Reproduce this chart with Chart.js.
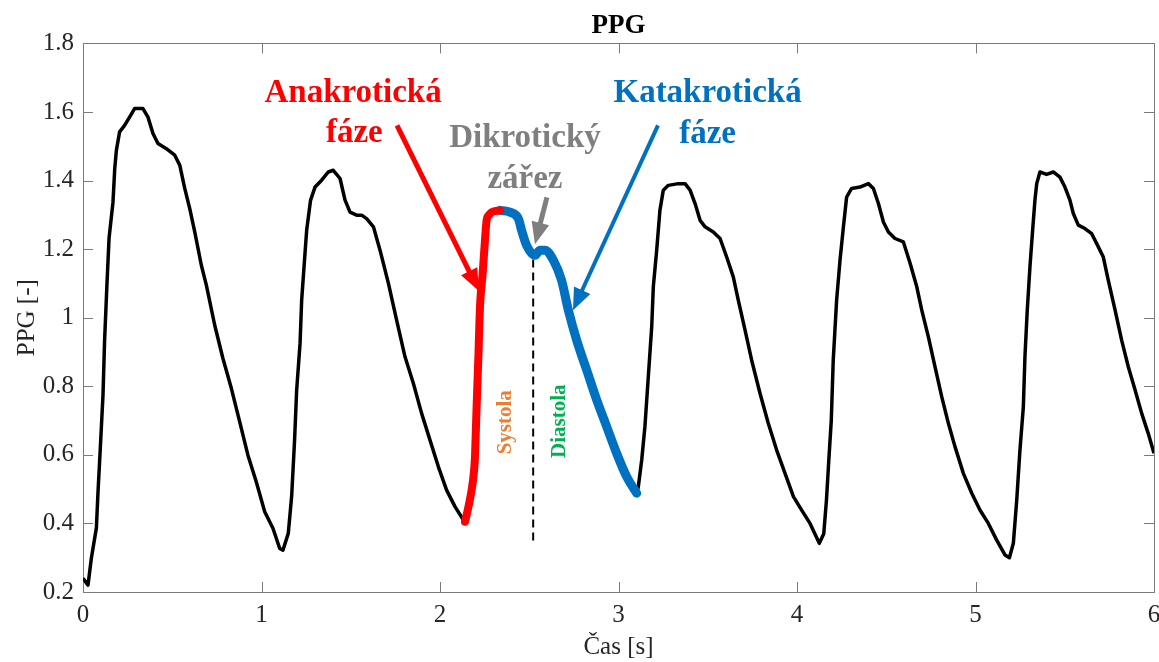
<!DOCTYPE html>
<html>
<head>
<meta charset="utf-8">
<script src="https://cdn.jsdelivr.net/npm/chart.js@4.4.1/dist/chart.umd.min.js"></script>
<style>
  html, body { margin: 0; padding: 0; background: #fff; }
  #wrap { width: 1159px; height: 662px; }
</style>
</head>
<body>
<div id="wrap"><canvas id="ppg"></canvas></div>
<script>
// PPG signal: time [s] and amplitude [-]
// úsek před zvýrazněnou periodou
const tBefore = [0.000, 0.028, 0.047, 0.075, 0.084, 0.097, 0.112, 0.121, 0.134, 0.146, 0.168, 0.178, 0.187, 0.205,
  0.233, 0.261, 0.289, 0.336, 0.364, 0.392, 0.420, 0.467, 0.514, 0.542, 0.570, 0.598, 0.626, 0.663, 0.691, 0.738,
  0.784, 0.831, 0.878, 0.924, 0.971, 1.018, 1.064, 1.102, 1.120, 1.150, 1.169, 1.185, 1.197, 1.216, 1.225, 1.241,
  1.253, 1.275, 1.300, 1.337, 1.374, 1.402, 1.440, 1.468, 1.496, 1.533, 1.561, 1.589, 1.627, 1.664, 1.711, 1.757,
  1.804, 1.851, 1.897, 1.944, 1.991, 2.037, 2.084, 2.131, 2.140];
const vBefore = [0.240, 0.220, 0.299, 0.387, 0.491, 0.620, 0.774, 0.934, 1.095, 1.232, 1.337, 1.436, 1.488, 1.542,
  1.561, 1.585, 1.610, 1.610, 1.585, 1.537, 1.508, 1.493, 1.474, 1.445, 1.377, 1.318, 1.250, 1.153, 1.095, 0.978,
  0.881, 0.794, 0.696, 0.599, 0.521, 0.434, 0.386, 0.327, 0.322, 0.371, 0.480, 0.640, 0.789, 0.925, 1.051, 1.168,
  1.255, 1.343, 1.381, 1.401, 1.425, 1.430, 1.406, 1.343, 1.308, 1.299, 1.299, 1.289, 1.265, 1.197, 1.100, 0.993,
  0.886, 0.808, 0.721, 0.643, 0.565, 0.497, 0.449, 0.410, 0.400];

// anakrotická fáze (systola)
const tAnakro = [2.140, 2.160, 2.177, 2.190, 2.196, 2.205, 2.215, 2.224, 2.239, 2.252, 2.261, 2.275, 2.290, 2.336];
const vAnakro = [0.405, 0.450, 0.497, 0.550, 0.594, 0.740, 0.886, 1.032, 1.129, 1.226, 1.284, 1.300, 1.308, 1.313];

// katakrotická fáze (diastola)
const tKatakro = [2.336, 2.392, 2.439, 2.457, 2.485, 2.532, 2.560, 2.588, 2.635, 2.681, 2.719, 2.766, 2.822, 2.878,
  2.934, 2.990, 3.046, 3.102];
const vKatakro = [1.313, 1.308, 1.289, 1.255, 1.211, 1.182, 1.197, 1.197, 1.168, 1.109, 1.022, 0.934, 0.847, 0.760,
  0.682, 0.604, 0.536, 0.488];

// úsek po zvýrazněné periodě
const tAfter = [3.111, 3.130, 3.148, 3.167, 3.186, 3.195, 3.214, 3.232, 3.251, 3.279, 3.335, 3.373, 3.401, 3.429,
  3.457, 3.485, 3.531, 3.569, 3.606, 3.643, 3.671, 3.709, 3.746, 3.793, 3.839, 3.886, 3.933, 3.980, 4.026, 4.073,
  4.125, 4.150, 4.165, 4.180, 4.192, 4.203, 4.222, 4.241, 4.260, 4.278, 4.306, 4.353, 4.400, 4.428, 4.456, 4.484,
  4.512, 4.549, 4.596, 4.634, 4.671, 4.699, 4.736, 4.773, 4.811, 4.848, 4.885, 4.932, 4.979, 5.025, 5.072, 5.118,
  5.165, 5.190, 5.212, 5.231, 5.249, 5.268, 5.277, 5.290, 5.305, 5.320, 5.333, 5.343, 5.361, 5.398, 5.436, 5.473,
  5.501, 5.529, 5.548, 5.576, 5.613, 5.651, 5.679, 5.716, 5.744, 5.782, 5.819, 5.856, 5.894, 5.931, 5.968, 6.000];
const vAfter = [0.507, 0.585, 0.682, 0.828, 0.973, 1.090, 1.197, 1.313, 1.372, 1.386, 1.391, 1.391, 1.372, 1.333,
  1.284, 1.265, 1.250, 1.231, 1.177, 1.119, 1.051, 0.964, 0.876, 0.779, 0.692, 0.614, 0.546, 0.478, 0.439, 0.400,
  0.342, 0.370, 0.468, 0.600, 0.700, 0.876, 1.051, 1.168, 1.265, 1.352, 1.377, 1.381, 1.391, 1.377, 1.333, 1.279,
  1.250, 1.231, 1.221, 1.158, 1.090, 1.022, 0.944, 0.857, 0.769, 0.692, 0.624, 0.546, 0.488, 0.439, 0.400, 0.352,
  0.308, 0.300, 0.342, 0.468, 0.614, 0.740, 0.886, 1.022, 1.148, 1.255, 1.343, 1.391, 1.425, 1.418, 1.425, 1.410,
  1.381, 1.343, 1.304, 1.270, 1.260, 1.245, 1.216, 1.177, 1.109, 1.022, 0.934, 0.857, 0.789, 0.721, 0.662, 0.605];

// dikrotický zářez - svislá čára oddělující systolu a diastolu
const notchTime = [2.522, 2.522];
const notchLevel = [1.170, 0.345];

const xTickValues = [0, 1, 2, 3, 4, 5, 6];
const xTickLabels = ['0', '1', '2', '3', '4', '5', '6'];
const yTickValues = [0.2, 0.4, 0.6, 0.8, 1.0, 1.2, 1.4, 1.6, 1.8];
const yTickLabels = ['0.2', '0.4', '0.6', '0.8', '1', '1.2', '1.4', '1.6', '1.8'];

const SERIF = "'Liberation Serif', 'Times New Roman', serif";
const AXIS_COLOR = '#7a7a7a';
const TEXT_COLOR = '#262626';

const toPoints = (ts, vs) => ts.map((t, i) => ({ x: t, y: vs[i] }));

// celý signál černě (barevné úseky se kreslí přes něj)
const blackPoints = [
  ...toPoints(tBefore, vBefore),
  ...toPoints(tAnakro, vAnakro),
  ...toPoints(tKatakro, vKatakro),
  ...toPoints(tAfter, vAfter)
];

// pevné rozměry os, aby plocha grafu seděla s předlohou
const fixBox = (size) => (scale) => {
  if (scale.isHorizontal()) scale.height = size; else scale.width = size;
  scale.paddingLeft = scale.paddingRight = scale.paddingTop = scale.paddingBottom = 0;
};

const axisBorder = { display: true, color: AXIS_COLOR, width: 1 };

const xAxis = (position, size, withLabels) => ({
  type: 'linear', position, min: 0, max: 6,
  afterBuildTicks: (s) => { s.ticks = xTickValues.map(v => ({ value: v })); },
  afterFit: fixBox(size),
  grid: { display: false, drawTicks: false },
  border: axisBorder,
  ticks: {
    display: withLabels, padding: 8, color: TEXT_COLOR, maxRotation: 0, autoSkip: false,
    font: { family: SERIF, size: 25 },
    callback: (v, i) => xTickLabels[i]
  },
  title: {
    display: withLabels, text: 'Čas [s]', color: TEXT_COLOR,
    font: { family: SERIF, size: 25 }, padding: { top: 0, bottom: 0 }
  }
});

const yAxis = (position, size, withLabels) => ({
  type: 'linear', position, min: 0.2, max: 1.8,
  afterBuildTicks: (s) => { s.ticks = yTickValues.map(v => ({ value: v })); },
  afterFit: fixBox(size),
  grid: { display: false, drawTicks: false },
  border: axisBorder,
  ticks: {
    display: withLabels, padding: 9, color: TEXT_COLOR, autoSkip: false,
    font: { family: SERIF, size: 25 },
    callback: (v, i) => yTickLabels[i]
  },
  title: {
    display: withLabels, text: 'PPG [-]', color: TEXT_COLOR,
    font: { family: SERIF, size: 25 }, padding: { top: 12, bottom: 0 }
  }
});

// značky os dovnitř grafu na všech čtyřech stranách (styl MATLABu)
const TICK_LEN = 10;
const inwardTicks = {
  id: 'inwardTicks',
  beforeDatasetsDraw(chart) {
    const { ctx, chartArea: a, scales: { x, y } } = chart;
    ctx.save();
    ctx.strokeStyle = AXIS_COLOR;
    ctx.lineWidth = 1;
    ctx.beginPath();
    x.ticks.forEach(tk => {
      const px = Math.round(x.getPixelForValue(tk.value)) + 0.5;
      ctx.moveTo(px, a.bottom); ctx.lineTo(px, a.bottom - TICK_LEN);
      ctx.moveTo(px, a.top); ctx.lineTo(px, a.top + TICK_LEN);
    });
    y.ticks.forEach(tk => {
      const py = Math.round(y.getPixelForValue(tk.value)) + 0.5;
      ctx.moveTo(a.left, py); ctx.lineTo(a.left + TICK_LEN, py);
      ctx.moveTo(a.right, py); ctx.lineTo(a.right - TICK_LEN, py);
    });
    ctx.stroke();
    ctx.restore();
  }
};

// popisky a šipky v datových souřadnicích
const LABELS = [
  { text: 'Anakrotická', t: 1.513, v: 1.628, color: '#FF0000', size: 33 },
  { text: 'fáze', t: 1.520, v: 1.512, color: '#FF0000', size: 33 },
  { text: 'Dikrotický', t: 2.476, v: 1.497, color: '#7F7F7F', size: 33 },
  { text: 'zářez', t: 2.476, v: 1.377, color: '#7F7F7F', size: 33 },
  { text: 'Katakrotická', t: 3.499, v: 1.629, color: '#0070C0', size: 33 },
  { text: 'fáze', t: 3.499, v: 1.509, color: '#0070C0', size: 33 },
  { text: 'Systola', t: 2.370, v: 0.695, color: '#ED7D31', size: 21, rotate: true },
  { text: 'Diastola', t: 2.672, v: 0.698, color: '#00B050', size: 21, rotate: true }
];

const ARROWS = [
  { from: [1.759, 1.561], to: [2.218, 1.078], color: '#FF0000', width: 5 },
  { from: [2.599, 1.351], to: [2.532, 1.214], color: '#7F7F7F', width: 5 },
  { from: [3.221, 1.561], to: [2.745, 1.022], color: '#0070C0', width: 4 }
];

const annotations = {
  id: 'ppgAnnotations',
  afterDatasetsDraw(chart) {
    const { ctx, scales: { x, y } } = chart;
    ctx.save();

    ARROWS.forEach(a => {
      const x1 = x.getPixelForValue(a.from[0]), y1 = y.getPixelForValue(a.from[1]);
      const x2 = x.getPixelForValue(a.to[0]), y2 = y.getPixelForValue(a.to[1]);
      const ang = Math.atan2(y2 - y1, x2 - x1);
      const headLen = 22, headHalf = 9;
      const bx = x2 - headLen * Math.cos(ang), by = y2 - headLen * Math.sin(ang);
      ctx.strokeStyle = a.color;
      ctx.fillStyle = a.color;
      ctx.lineWidth = a.width;
      ctx.beginPath();
      ctx.moveTo(x1, y1);
      ctx.lineTo(bx + 2 * Math.cos(ang), by + 2 * Math.sin(ang));
      ctx.stroke();
      ctx.beginPath();
      ctx.moveTo(x2, y2);
      ctx.lineTo(bx + headHalf * Math.sin(ang), by - headHalf * Math.cos(ang));
      ctx.lineTo(bx - headHalf * Math.sin(ang), by + headHalf * Math.cos(ang));
      ctx.closePath();
      ctx.fill();
    });

    LABELS.forEach(l => {
      const px = x.getPixelForValue(l.t), py = y.getPixelForValue(l.v);
      ctx.fillStyle = l.color;
      ctx.font = `bold ${l.size}px ${SERIF}`;
      ctx.textAlign = 'center';
      if (l.rotate) {
        ctx.save();
        ctx.translate(px, py);
        ctx.rotate(-Math.PI / 2);
        ctx.textBaseline = 'middle';
        ctx.fillText(l.text, 0, 0);
        ctx.restore();
      } else {
        ctx.textBaseline = 'alphabetic';
        ctx.fillText(l.text, px, py);
      }
    });

    ctx.restore();
  }
};

new Chart(document.getElementById('ppg'), {
  type: 'line',
  data: {
    datasets: [
      {
        data: toPoints(tAnakro, vAnakro), borderColor: '#FF0000', borderWidth: 8,
        borderCapStyle: 'round', borderJoinStyle: 'round', cubicInterpolationMode: 'monotone',
        pointRadius: 0, order: 1
      },
      {
        data: toPoints(tKatakro, vKatakro), borderColor: '#0070C0', borderWidth: 9,
        borderCapStyle: 'round', borderJoinStyle: 'round', cubicInterpolationMode: 'monotone',
        pointRadius: 0, order: 1
      },
      {
        data: toPoints(notchTime, notchLevel), borderColor: '#000', borderWidth: 2,
        borderDash: [8, 5], pointRadius: 0, order: 2
      },
      {
        data: blackPoints, borderColor: '#000', borderWidth: 3.5, tension: 0,
        borderJoinStyle: 'round', pointRadius: 0, order: 3
      }
    ]
  },
  options: {
    responsive: true,
    maintainAspectRatio: false,
    animation: false,
    layout: { padding: { left: 0, right: 5, top: 0, bottom: 0 } },
    scales: {
      x: xAxis('bottom', 70, true),
      x2: xAxis('top', 0, false),
      y: yAxis('left', 83, true),
      y2: yAxis('right', 0, false)
    },
    plugins: {
      legend: { display: false },
      tooltip: { enabled: false },
      title: {
        display: true, text: 'PPG', fullSize: false, color: '#000',
        font: { family: SERIF, size: 27, weight: 'bold' },
        padding: { top: 10, bottom: 1 }
      }
    }
  },
  plugins: [inwardTicks, annotations]
});
</script>
</body>
</html>
